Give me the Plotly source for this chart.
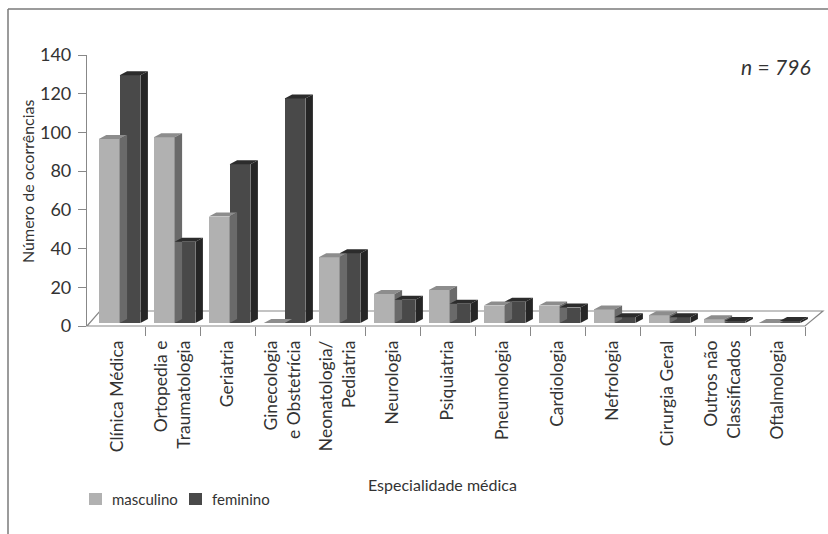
import plotly.graph_objects as go

# Data: occurrences by medical specialty and sex
categorias = [
    "Clínica Médica", "Ortopedia e<br>Traumatologia", "Geriatria",
    "Ginecologia<br>e Obstetrícia", "Neonatologia/<br>Pediatria", "Neurologia",
    "Psiquiatria", "Pneumologia", "Cardiologia", "Nefrologia",
    "Cirurgia Geral", "Outros não<br>Classificados", "Oftalmologia",
]
masculino = [95, 96, 55, 0, 34, 15, 17, 9, 9, 7, 4, 2, 0]
feminino = [128, 42, 82, 116, 36, 12, 10, 11, 8, 3, 3, 1, 1]
y_ticks = [0, 20, 40, 60, 80, 100, 120, 140]

# Layout geometry (pixels)
W, H = 828, 534
L, R, T, B = 87, 828, 55, 326
PX_PER_CAT = 55.0
X0 = -3 / PX_PER_CAT
X1 = X0 + (R - L) / PX_PER_CAT
Y0, Y1 = 0, 140
PX_PER_UNIT = (B - T) / (Y1 - Y0)

# 3D look parameters (axis units)
BAR_W = 20.8 / PX_PER_CAT
BAR_OFF = 8.8 / PX_PER_CAT
BASE = 3 / PX_PER_UNIT
DX = 7.5 / PX_PER_CAT
DY = 4 / PX_PER_UNIT
FLOOR_DY = 15 / PX_PER_UNIT
FLOOR_DX_L = 13 / PX_PER_CAT
FLOOR_DX_R = 18 / PX_PER_CAT

FONT = "Lato"
TXT = "#333333"
GRID = "#888888"

series = [
    ("masculino", masculino, 0, "#b1b1b1", "#8d8d8d", "#6a6a6a"),
    ("feminino", feminino, 1, "#494949", "#2c2c2c", "#252525"),
]


def to_px(x, y):
    return L + (x - X0) * PX_PER_CAT, B - (y - Y0) * PX_PER_UNIT


def paper(x, y):
    px, py = to_px(x, y)
    return (px - L) / (R - L), (B - py) / (B - T)


def pxp(px, py):
    return (px - L) / (R - L), (B - py) / (B - T)


fig = go.Figure()

for name, vals, k, c_front, c_top, c_side in series:
    xs_front = [i + BAR_OFF + k * BAR_W + BAR_W / 2 for i in range(len(vals))]
    fig.add_trace(go.Bar(
        x=xs_front, y=vals, base=[BASE] * len(vals), width=BAR_W,
        marker=dict(color=c_front, line=dict(width=0)),
        name=name, showlegend=False, hoverinfo="skip",
    ))
    tx, ty, sx, sy = [], [], [], []
    for i, v in enumerate(vals):
        a = i + BAR_OFF + k * BAR_W
        b = a + BAR_W
        top = BASE + v
        tx += [a, b, b + DX, a + DX, a, None]
        ty += [top, top, top + DY, top + DY, top, None]
        sx += [b, b + DX, b + DX, b, b, None]
        sy += [BASE, BASE + DY, top + DY, top, BASE, None]
    fig.add_trace(go.Scatter(
        x=tx, y=ty, mode="lines", fill="toself", fillcolor=c_top,
        line=dict(width=0, color=c_top), showlegend=False, hoverinfo="skip",
    ))
    fig.add_trace(go.Scatter(
        x=sx, y=sy, mode="lines", fill="toself", fillcolor=c_side,
        line=dict(width=0, color=c_side), showlegend=False, hoverinfo="skip",
    ))

n_cat = len(categorias)
shapes = []

# Floor outline (drawn beneath the bars)
fl = [
    paper(X0, 0), paper(n_cat, 0),
    paper(n_cat + FLOOR_DX_R, FLOOR_DY), paper(X0 + FLOOR_DX_L, FLOOR_DY),
]
path = "M{},{} L{},{} L{},{} L{},{} Z".format(*[c for p in fl for c in p])
shapes.append(dict(type="path", xref="paper", yref="paper", path=path,
                   line=dict(color=GRID, width=1.2), layer="below"))

# Outer frame (left and top edges)
fx0, fy0 = pxp(8, 9)
fx1, _ = pxp(W, 9)
_, fyb = pxp(8, H + 2)
shapes.append(dict(type="line", xref="paper", yref="paper", x0=fx0, y0=fyb,
                   x1=fx0, y1=fy0, line=dict(color="#7a7a7a", width=1.5)))
shapes.append(dict(type="line", xref="paper", yref="paper", x0=fx0, y0=fy0,
                   x1=fx1 + 0.01, y1=fy0, line=dict(color="#7a7a7a", width=1.5)))

# Legend swatches
legend_items = [("masculino", "#b1b1b1", 89), ("feminino", "#494949", 189)]
annotations = []
for label, col, lx in legend_items:
    ax0, ay0 = pxp(lx, 505)
    ax1, ay1 = pxp(lx + 13, 493)
    shapes.append(dict(type="rect", xref="paper", yref="paper", x0=ax0, y0=ay0,
                       x1=ax1, y1=ay1, fillcolor=col, line=dict(width=0)))
    tx_, ty_ = pxp(lx + 21, 499)
    annotations.append(dict(xref="paper", yref="paper", x=tx_, y=ty_, text=label,
                            showarrow=False, xanchor="left", yanchor="middle",
                            font=dict(family=FONT, size=15, color=TXT)))

# Axis titles and sample size note
ax_, ay_ = pxp(442, 484)
annotations.append(dict(xref="paper", yref="paper", x=ax_, y=ay_,
                        text="Especialidade médica", showarrow=False,
                        xanchor="center", yanchor="middle",
                        font=dict(family=FONT, size=16, color=TXT)))
ax_, ay_ = pxp(27, 181)
annotations.append(dict(xref="paper", yref="paper", x=ax_, y=ay_,
                        text="Número de ocorrências", showarrow=False, textangle=-90,
                        xanchor="center", yanchor="middle",
                        font=dict(family=FONT, size=16, color=TXT)))
ax_, ay_ = pxp(813, 67)
annotations.append(dict(xref="paper", yref="paper", x=ax_, y=ay_,
                        text="<i>n</i> = <i>796</i>", showarrow=False,
                        xanchor="right", yanchor="middle",
                        font=dict(family=FONT, size=21, color=TXT)))

fig.update_layout(
    width=W, height=H,
    margin=dict(l=L, r=W - R, t=T, b=H - B, pad=0),
    paper_bgcolor="white", plot_bgcolor="white",
    barmode="overlay", bargap=0,
    showlegend=False,
    shapes=shapes, annotations=annotations,
    font=dict(family=FONT, size=15, color=TXT),
    xaxis=dict(
        range=[X0, X1], showgrid=False, zeroline=False, showline=False,
        tickmode="array", tickvals=[i + 0.5 for i in range(n_cat)],
        ticktext=categorias, tickangle=-90, ticks="",
        ticklabelstandoff=10,
        tickfont=dict(family=FONT, size=17.5, color=TXT),
        minor=dict(tickmode="array", tickvals=list(range(1, n_cat + 1)),
                   ticks="outside", ticklen=9, tickcolor=GRID, tickwidth=1.2,
                   showgrid=False),
    ),
    yaxis=dict(
        range=[Y0, Y1], showgrid=False, zeroline=False,
        showline=True, linecolor=GRID, linewidth=1.2,
        tickmode="array", tickvals=y_ticks, ticks="outside", ticklen=8,
        tickcolor=GRID, tickwidth=1.2, ticklabelstandoff=3,
        tickfont=dict(family=FONT, size=18, color=TXT),
    ),
)

fig.write_html("out.html")
